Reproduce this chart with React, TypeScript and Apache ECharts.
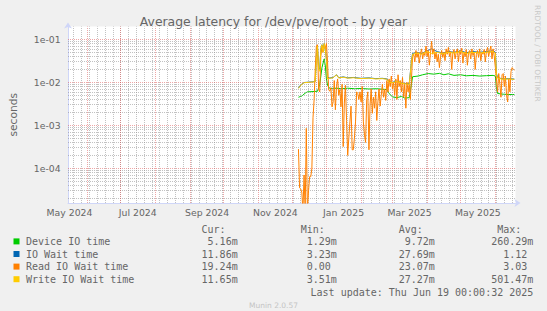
import React, { useEffect, useRef } from 'react';
import * as echarts from 'echarts';

const TITLE = 'Average latency for /dev/pve/root - by year';
const Y_NAME = 'seconds';
const seriesNames = ['Device IO time', 'IO Wait time', 'Read IO Wait time', 'Write IO Wait time'];
const seriesColors = ['#00cc00', '#0066b3', '#ff8000', '#ffcc00'];

const xStart = '2024-05-15';
const xEnd = '2025-06-19';
const xLabelDates = ['2024-05-16', '2024-07-16', '2024-09-16', '2024-11-16', '2025-01-16', '2025-03-16', '2025-05-16'];
const monthNames = ['Jan', 'Feb', 'Mar', 'Apr', 'May', 'Jun', 'Jul', 'Aug', 'Sep', 'Oct', 'Nov', 'Dec'];
const yTickExps = [-4, -3, -2, -1];
const yMinValue = 1.56e-5;
const yMaxValue = 0.199;

// [date, seconds]
const deviceIO: [string, number][] = [
  ['2024-12-07', 0.0045], ['2024-12-10', 0.0048], ['2024-12-13', 0.0056], ['2024-12-15', 0.006],
  ['2024-12-20', 0.0061], ['2024-12-24', 0.0062], ['2024-12-26', 0.009], ['2024-12-27', 0.014],
  ['2024-12-28', 0.022], ['2024-12-29', 0.028], ['2024-12-30', 0.035], ['2024-12-31', 0.024],
  ['2025-01-01', 0.012], ['2025-01-02', 0.0085], ['2025-01-04', 0.0072], ['2025-01-10', 0.0073],
  ['2025-01-15', 0.0071], ['2025-01-20', 0.0073], ['2025-01-26', 0.0071], ['2025-02-01', 0.0072],
  ['2025-02-08', 0.007], ['2025-02-15', 0.0071], ['2025-02-20', 0.0069], ['2025-02-24', 0.0068],
  ['2025-02-26', 0.0055], ['2025-03-01', 0.0046], ['2025-03-05', 0.0044], ['2025-03-09', 0.0047],
  ['2025-03-12', 0.0043], ['2025-03-16', 0.0044], ['2025-03-18', 0.009], ['2025-03-19', 0.0135],
  ['2025-03-24', 0.014], ['2025-03-28', 0.015], ['2025-04-02', 0.016], ['2025-04-07', 0.0155],
  ['2025-04-12', 0.0162], ['2025-04-16', 0.015], ['2025-04-20', 0.0158], ['2025-04-25', 0.0145],
  ['2025-05-01', 0.015], ['2025-05-06', 0.0142], ['2025-05-12', 0.0145], ['2025-05-18', 0.014],
  ['2025-05-24', 0.0143], ['2025-05-30', 0.0145], ['2025-06-01', 0.014], ['2025-06-02', 0.007],
  ['2025-06-03', 0.0055], ['2025-06-08', 0.0053], ['2025-06-13', 0.0052], ['2025-06-18', 0.0052],
];

const ioWait: [string, number][] = [
  ['2024-12-07', 0.0074], ['2024-12-09', 0.0087], ['2024-12-12', 0.0099], ['2024-12-16', 0.0101],
  ['2024-12-20', 0.0103], ['2024-12-22', 0.0105], ['2024-12-23', 0.04], ['2024-12-24', 0.07],
  ['2024-12-25', 0.022], ['2024-12-26', 0.02], ['2024-12-27', 0.06], ['2024-12-28', 0.075],
  ['2024-12-29', 0.052], ['2024-12-30', 0.08], ['2024-12-31', 0.062], ['2025-01-01', 0.035],
  ['2025-01-02', 0.013], ['2025-01-04', 0.0126], ['2025-01-07', 0.013], ['2025-01-10', 0.015],
  ['2025-01-12', 0.0128], ['2025-01-16', 0.0134], ['2025-01-20', 0.0127], ['2025-01-25', 0.013],
  ['2025-02-01', 0.0124], ['2025-02-08', 0.0127], ['2025-02-14', 0.0122], ['2025-02-20', 0.0124],
  ['2025-02-24', 0.012], ['2025-02-26', 0.0102], ['2025-03-01', 0.01], ['2025-03-05', 0.0107],
  ['2025-03-09', 0.0097], ['2025-03-13', 0.0094], ['2025-03-16', 0.0092], ['2025-03-18', 0.031],
  ['2025-03-19', 0.047], ['2025-03-23', 0.05], ['2025-03-27', 0.047], ['2025-04-01', 0.054],
  ['2025-04-05', 0.06], ['2025-04-10', 0.052], ['2025-04-15', 0.048], ['2025-04-20', 0.052],
  ['2025-04-25', 0.05], ['2025-05-01', 0.054], ['2025-05-06', 0.049], ['2025-05-12', 0.052],
  ['2025-05-18', 0.05], ['2025-05-24', 0.052], ['2025-05-30', 0.054], ['2025-06-01', 0.05],
  ['2025-06-02', 0.016], ['2025-06-03', 0.0128], ['2025-06-08', 0.012], ['2025-06-13', 0.0122],
  ['2025-06-18', 0.0119],
];

// Read IO wait, one value per day, starting at readStart
const readStart = '2024-12-07';
const readDec2024 = [
  2.8e-4, 3.5e-5, 3.3e-5, 2.8e-5, 1e-5, 7e-5, 1e-5, 8.5e-4, 1e-5, 3e-5, 6.4e-5, 6.4e-5, 1.0e-4,
  1.5e-3, 4e-3, 0.02, 0.07, 0.075, 0.007, 0.006, 0.04, 0.07, 0.05, 0.075, 0.06,
];
const readJan2025 = [
  0.08, 0.03, 0.0068, 0.0062, 0.0075, 0.0027, 0.0035, 0.011, 0.0023, 0.008, 0.012, 0.005, 0.0068,
  0.0027, 0.009, 3.2e-4, 0.0033, 0.0085, 0.0013, 2.0e-4, 5e-4, 0.0012, 0.0028, 2.7e-4, 2.7e-4,
  5e-4, 0.0012, 0.006, 0.0055, 0.004, 0.006,
];
const readFeb2025 = [
  0.0035, 0.008, 0.0012, 6e-4, 4e-4, 0.004, 0.006, 2.7e-4, 0.003, 0.007, 0.0019, 0.0045, 0.0025,
  0.006, 0.0013, 0.0035, 0.007, 0.0028, 0.005, 0.009, 0.0045, 0.007, 0.0038, 0.011, 0.006, 0.012,
  0.008, 0.014,
];
const readMar2025 = [
  0.007, 0.01, 0.005, 0.012, 0.004, 0.015, 0.008, 0.011, 0.006, 0.013, 0.0045, 0.009, 0.0025,
  0.01, 0.006, 0.009, 0.004, 0.012, 0.04, 0.045, 0.03, 0.055, 0.038, 0.05, 0.028, 0.045, 0.06,
  0.035, 0.05, 0.042, 0.07,
];
const readApr2025 = [
  0.04, 0.055, 0.025, 0.048, 0.09, 0.045, 0.06, 0.035, 0.05, 0.03, 0.045, 0.022, 0.04, 0.055,
  0.038, 0.05, 0.032, 0.06, 0.045, 0.065, 0.04, 0.052, 0.02, 0.048, 0.058, 0.035, 0.05, 0.06,
  0.03, 0.055,
];
const readMay2025 = [
  0.045, 0.062, 0.028, 0.05, 0.04, 0.058, 0.025, 0.048, 0.055, 0.035, 0.06, 0.042, 0.05, 0.02,
  0.045, 0.055, 0.038, 0.06, 0.032, 0.05, 0.045, 0.058, 0.03, 0.052, 0.065, 0.04, 0.055, 0.07,
  0.035, 0.06, 0.04,
];
const readJun2025 = [
  0.022, 0.012, 0.006, 0.016, 0.009, 0.0045, 0.015, 0.016, 0.008, 0.014, 0.005, 0.0035, 0.012,
  0.006, 0.018, 0.022, 0.02, 0.0192,
];

const writeIO: [string, number][] = [
  ['2024-12-07', 0.0072], ['2024-12-09', 0.0085], ['2024-12-12', 0.0098], ['2024-12-16', 0.01],
  ['2024-12-20', 0.0102], ['2024-12-22', 0.0104], ['2024-12-23', 0.03], ['2024-12-24', 0.07],
  ['2024-12-25', 0.02], ['2024-12-26', 0.018], ['2024-12-27', 0.06], ['2024-12-28', 0.075],
  ['2024-12-29', 0.05], ['2024-12-30', 0.08], ['2024-12-31', 0.06], ['2025-01-01', 0.03],
  ['2025-01-02', 0.012], ['2025-01-04', 0.0124], ['2025-01-07', 0.0128], ['2025-01-10', 0.015],
  ['2025-01-12', 0.0126], ['2025-01-16', 0.0132], ['2025-01-20', 0.0125], ['2025-01-25', 0.0128],
  ['2025-02-01', 0.0122], ['2025-02-08', 0.0125], ['2025-02-14', 0.012], ['2025-02-20', 0.0122],
  ['2025-02-24', 0.0118], ['2025-02-26', 0.01], ['2025-03-01', 0.0098], ['2025-03-05', 0.0105],
  ['2025-03-09', 0.0095], ['2025-03-13', 0.0092], ['2025-03-16', 0.009], ['2025-03-18', 0.03],
  ['2025-03-19', 0.045], ['2025-03-23', 0.048], ['2025-03-27', 0.045], ['2025-04-01', 0.052],
  ['2025-04-05', 0.047], ['2025-04-10', 0.05], ['2025-04-15', 0.046], ['2025-04-20', 0.05],
  ['2025-04-25', 0.048], ['2025-05-01', 0.052], ['2025-05-06', 0.047], ['2025-05-12', 0.05],
  ['2025-05-18', 0.048], ['2025-05-24', 0.05], ['2025-05-30', 0.052], ['2025-06-01', 0.048],
  ['2025-06-02', 0.015], ['2025-06-03', 0.0125], ['2025-06-08', 0.0118], ['2025-06-13', 0.012],
  ['2025-06-18', 0.0117],
];

const statHeaders = ['Cur:', 'Min:', 'Avg:', 'Max:'];
const curValues = ['5.16m', '11.86m', '19.24m', '11.65m'];
const minValues = ['1.29m', '3.23m', '0.00', '3.51m'];
const avgValues = ['9.72m', '27.69m', '23.07m', '27.27m'];
const maxValues = ['260.29m', '1.12', '3.03', '501.47m'];
const LAST_UPDATE = 'Last update: Thu Jun 19 00:00:32 2025';
const VERSION = 'Munin 2.0.57';
const WATERMARK = 'RRDTOOL / TOBI OETIKER';

const DAY = 86400000;
const ts = (s: string) => {
  const [y, m, d] = s.split('-').map(Number);
  return Date.UTC(y, m - 1, d);
};
const lg = (v: number) => Math.log10(v);

export default function App() {
  const ref = useRef<HTMLDivElement>(null);
  useEffect(() => {
    if (!ref.current) return;
    const chart = echarts.init(ref.current, undefined, { renderer: 'svg' });

    const readAll = [...readDec2024, ...readJan2025, ...readFeb2025, ...readMar2025, ...readApr2025, ...readMay2025, ...readJun2025];
    const r0 = ts(readStart);
    const readData = readAll.map((v, i) => [r0 + i * DAY, lg(v)]);
    const pairs = (arr: [string, number][]) => arr.map(([d, v]) => [ts(d), lg(v)]);

    const xMin = ts(xStart);
    const xMax = ts(xEnd);
    const yMin = lg(yMinValue);
    const yMax = lg(yMaxValue);

    // grid lines
    const minorStyle = { color: 'rgba(143,143,143,0.55)', width: 1, type: [1, 1] as any, opacity: 1 };
    const majorStyle = { color: 'rgba(222,79,79,0.5)', width: 1, type: [1, 1] as any, opacity: 1 };
    const gridLines: any[] = [];
    for (let t = ts('2024-05-20'); t < xMax; t += 7 * DAY) gridLines.push({ xAxis: t, lineStyle: minorStyle });
    for (let e = -5; e <= -1; e++) {
      for (let k = 2; k <= 9; k++) {
        const v = Math.log10(k) + e;
        if (v > yMin && v < yMax) gridLines.push({ yAxis: v, lineStyle: minorStyle });
      }
    }
    for (let i = 0; i <= 12; i++) gridLines.push({ xAxis: Date.UTC(2024, 5 + i, 1), lineStyle: majorStyle });
    yTickExps.forEach((e) => gridLines.push({ yAxis: e, lineStyle: majorStyle }));

    const sansFont = 'DejaVu Sans';
    const monoFont = '"DejaVu Sans Mono"';
    const textColor = '#666666';

    const rowY = [241.4, 254.0, 266.6, 279.2];
    const headerY = 229.2;
    const colRight = [237.7, 336.8, 434.9, 533.3];
    const charW = 6.02;
    const statCols = [curValues, minValues, avgValues, maxValues];
    const graphics: any[] = [];
    statHeaders.forEach((h, c) => {
      graphics.push({
        type: 'text',
        style: { text: h, x: colRight[c] - 2 * charW, y: headerY, font: `10px ${monoFont}`, fill: textColor, textAlign: 'right', textVerticalAlign: 'middle' },
      });
    });
    seriesNames.forEach((n, i) => {
      graphics.push({ type: 'rect', shape: { x: 13.5, y: rowY[i] - 3, width: 6, height: 6 }, style: { fill: seriesColors[i] } });
      graphics.push({
        type: 'text',
        style: { text: n, x: 26, y: rowY[i], font: `10px ${monoFont}`, fill: textColor, textAlign: 'left', textVerticalAlign: 'middle' },
      });
      statCols.forEach((col, c) => {
        const s = col[i];
        const hasUnit = /[a-zA-Z]$/.test(s);
        graphics.push({
          type: 'text',
          style: { text: s, x: colRight[c] - (hasUnit ? 0 : charW), y: rowY[i], font: `10px ${monoFont}`, fill: textColor, textAlign: 'right', textVerticalAlign: 'middle' },
        });
      });
    });
    graphics.push({
      type: 'text',
      style: { text: LAST_UPDATE, x: 533.3, y: 292, font: `10px ${monoFont}`, fill: textColor, textAlign: 'right', textVerticalAlign: 'middle' },
    });
    graphics.push({
      type: 'text',
      style: { text: VERSION, x: 273.5, y: 305, font: `7.5px ${sansFont}`, fill: '#c4c4c4', textAlign: 'center', textVerticalAlign: 'middle' },
    });
    graphics.push({
      type: 'text',
      x: 537,
      y: 5,
      rotation: -Math.PI / 2,
      style: { text: WATERMARK, x: 0, y: 0, font: `7.5px ${sansFont}`, fill: '#c8c8c8', textAlign: 'left', textVerticalAlign: 'middle' },
    });

    const lineSeries = (name: string, data: any[], color: string, z: number) => ({
      name,
      type: 'line',
      data,
      showSymbol: false,
      symbol: 'none',
      clip: true,
      z,
      lineStyle: { color, width: 1 },
      itemStyle: { color },
    });

    const axisColor = '#cfd6f8';
    chart.setOption({
      animation: false,
      backgroundColor: '#f0f0f0',
      title: {
        text: TITLE,
        left: 'center',
        top: 10,
        textStyle: { fontSize: 12.4, fontWeight: 'normal', fontFamily: sansFont, color: textColor },
      },
      grid: { left: 66.7, right: 31.5, top: 26.5, bottom: 108, show: true, backgroundColor: '#ffffff', borderWidth: 0 },
      xAxis: {
        type: 'value',
        min: xMin,
        max: xMax,
        splitLine: { show: false },
        axisTick: { show: false },
        axisLine: { show: true, lineStyle: { color: axisColor, width: 1 }, symbol: ['none', 'arrow'], symbolSize: [6, 6], symbolOffset: [0, 5] },
        axisLabel: {
          customValues: xLabelDates.map((d) => ts(d) + 8 * 3600000),
          formatter: (v: number) => {
            const d = new Date(v);
            return `${monthNames[d.getUTCMonth()]} ${d.getUTCFullYear()}`;
          },
          color: textColor,
          fontSize: 9.3,
          fontFamily: sansFont,
          margin: 5,
          hideOverlap: false,
        },
      },
      yAxis: {
        type: 'value',
        min: yMin,
        max: yMax,
        name: Y_NAME,
        nameLocation: 'middle',
        nameGap: 49,
        nameTextStyle: { fontSize: 10.7, fontFamily: sansFont, color: textColor },
        splitLine: { show: false },
        axisTick: { show: false },
        axisLine: { show: true, onZero: false, lineStyle: { color: axisColor, width: 1 }, symbol: ['none', 'arrow'], symbolSize: [6, 6], symbolOffset: [0, 4] },
        axisLabel: {
          customValues: yTickExps,
          formatter: (v: number) => '1e-' + String(Math.round(-v)).padStart(2, '0'),
          color: textColor,
          fontSize: 9.3,
          fontFamily: sansFont,
          margin: 7.4,
        },
      },
      series: [
        {
          type: 'line',
          data: [],
          silent: true,
          z: 1,
          markLine: { silent: true, symbol: ['none', 'none'], label: { show: false }, animation: false, emphasis: { disabled: true }, data: gridLines },
        },
        lineSeries(seriesNames[0], pairs(deviceIO), seriesColors[0], 3),
        lineSeries(seriesNames[1], pairs(ioWait), seriesColors[1], 4),
        lineSeries(seriesNames[2], readData, seriesColors[2], 5),
        lineSeries(seriesNames[3], pairs(writeIO), seriesColors[3], 6),
      ],
      graphic: graphics,
    });
    return () => chart.dispose();
  }, []);
  return <div ref={ref} style={{ position: 'fixed', left: 0, top: 0, width: 547, height: 311 }} />;
}
